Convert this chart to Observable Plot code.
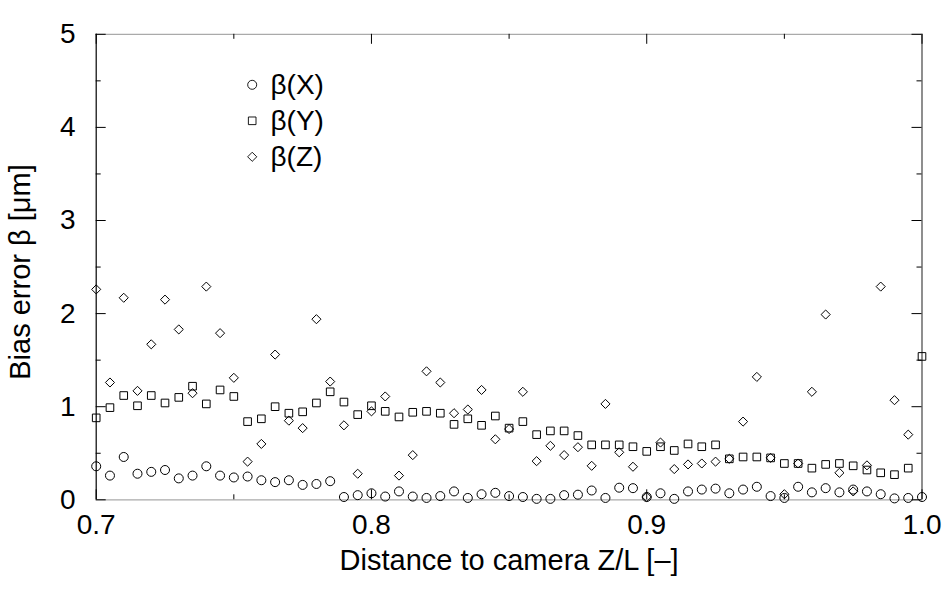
<!DOCTYPE html>
<html><head><meta charset="utf-8">
<script src="https://cdn.jsdelivr.net/npm/d3@7"></script>
<script src="https://cdn.jsdelivr.net/npm/@observablehq/plot@0.6"></script>
<style>
body{margin:0;background:#fff}
#chart svg{font-family:"Liberation Sans",Arial,Helvetica,sans-serif}
</style>
</head><body><div id="chart"></div>
<script>
const distance = [0.700,0.705,0.710,0.715,0.720,0.725,0.730,0.735,0.740,0.745,
  0.750,0.755,0.760,0.765,0.770,0.775,0.780,0.785,0.790,0.795,
  0.800,0.805,0.810,0.815,0.820,0.825,0.830,0.835,0.840,0.845,
  0.850,0.855,0.860,0.865,0.870,0.875,0.880,0.885,0.890,0.895,
  0.900,0.905,0.910,0.915,0.920,0.925,0.930,0.935,0.940,0.945,
  0.950,0.955,0.960,0.965,0.970,0.975,0.980,0.985,0.990,0.995,1.000];
const betaX = [0.36,0.26,0.46,0.28,0.30,0.32,0.23,0.26,0.36,0.26,
  0.24,0.25,0.21,0.19,0.21,0.16,0.17,0.20,0.03,0.05,
  0.07,0.035,0.09,0.035,0.02,0.04,0.09,0.02,0.06,0.075,
  0.04,0.03,0.01,0.01,0.05,0.055,0.10,0.02,0.13,0.125,
  0.03,0.07,0.01,0.09,0.11,0.12,0.07,0.11,0.14,0.04,
  0.02,0.14,0.08,0.125,0.08,0.11,0.09,0.06,0.015,0.02,0.03];
const betaY = [0.88,0.99,1.12,1.01,1.12,1.04,1.10,1.22,1.03,1.18,
  1.11,0.84,0.87,1.00,0.93,0.945,1.04,1.16,1.05,0.915,
  1.01,0.95,0.89,0.94,0.95,0.93,0.81,0.87,0.80,0.90,
  0.77,0.84,0.70,0.74,0.74,0.69,0.59,0.59,0.59,0.57,
  0.52,0.57,0.53,0.60,0.57,0.59,0.44,0.46,0.46,0.45,
  0.39,0.39,0.34,0.38,0.39,0.365,0.32,0.29,0.27,0.34,1.54];
const betaZ = [2.26,1.26,2.17,1.17,1.67,2.15,1.83,1.145,2.29,1.79,
  1.31,0.41,0.60,1.56,0.85,0.77,1.94,1.27,0.80,0.28,
  0.95,1.11,0.26,0.48,1.38,1.26,0.93,0.97,1.18,0.65,
  0.76,1.16,0.415,0.58,0.48,0.565,0.365,1.03,0.51,0.355,
  0.03,0.615,0.33,0.38,0.39,0.41,0.44,0.84,1.32,0.45,
  0.06,0.39,1.16,1.99,0.29,0.09,0.37,2.29,1.07,0.70,null];
const seriesNames = ["β(X)","β(Y)","β(Z)"];
const seriesSymbols = ["circle","square","diamond2"];
const xMajor = [0.7,0.8,0.9,1.0];
const xMinor = [0.75,0.85,0.95];
const yMajor = [0,1,2,3,4,5];
const yMinor = [0.5,1.5,2.5,3.5,4.5];
const xLabel = "Distance to camera Z/L [–]";
const yLabel = "Bias error β [μm]";

const W = 950, H = 614;
const mL = 95.7, mR = 28.5, mT = 33.8, mB = 114.7;
const pW = W - mL - mR, pH = H - mT - mB;
const seriesValues = [betaX, betaY, betaZ];
const symbolR = {circle: 4.5, square: 4.3, diamond2: 4.1};

const rows = s => distance.map((d, i) => ({x: d, y: seriesValues[s][i]}));

const marks = [];
// frame lines
marks.push(Plot.ruleY([0], {stroke: "#aaa", strokeWidth: 1.2}));
marks.push(Plot.ruleY([5], {stroke: "#aaa", strokeWidth: 1.2}));
marks.push(Plot.ruleX([0.7], {stroke: "#000", strokeWidth: 1.2}));
marks.push(Plot.ruleX([1.0], {stroke: "#444", strokeWidth: 1.2}));
// inward ticks
const tick = 10, minor = 5;
marks.push(Plot.tickY(yMajor, {y: d => d, stroke: "#000", insetRight: pW - tick}));
marks.push(Plot.tickY(yMinor, {y: d => d, stroke: "#000", insetRight: pW - minor}));
marks.push(Plot.tickY(yMajor, {y: d => d, stroke: "#000", insetLeft: pW - tick}));
marks.push(Plot.tickY(yMinor, {y: d => d, stroke: "#000", insetLeft: pW - minor}));
marks.push(Plot.tickX(xMajor, {x: d => d, stroke: "#000", insetTop: pH - tick}));
marks.push(Plot.tickX(xMinor, {x: d => d, stroke: "#000", insetTop: pH - minor}));
marks.push(Plot.tickX(xMajor, {x: d => d, stroke: "#000", insetBottom: pH - tick}));
marks.push(Plot.tickX(xMinor, {x: d => d, stroke: "#000", insetBottom: pH - minor}));
// tick labels
marks.push(Plot.axisX(xMajor, {tickSize: 0, tickPadding: 14, tickFormat: d3.format(".1f"), fontSize: 28, label: null}));
marks.push(Plot.axisY(yMajor, {tickSize: 0, tickPadding: 20.7, tickFormat: d => String(d), fontSize: 28, label: null}));
// axis titles
marks.push(Plot.text([xLabel], {frameAnchor: "bottom", lineAnchor: "middle", textAnchor: "middle", dy: 60.7, text: d => d, fontSize: 29}));
marks.push(Plot.text([yLabel], {frameAnchor: "left", lineAnchor: "middle", textAnchor: "middle", rotate: -90, dx: -75.7, dy: 5, text: d => d, fontSize: 29}));
// data
seriesSymbols.forEach((sym, s) => {
  marks.push(Plot.dot(rows(s), {x: "x", y: "y", symbol: sym, r: symbolR[sym], stroke: "#000", fill: "none", strokeWidth: 1}));
});
// legend
seriesNames.forEach((name, i) => {
  marks.push(Plot.dot([name], {frameAnchor: "top-left", dx: 156, dy: 50.5 + 36 * i, symbol: seriesSymbols[i], r: symbolR[seriesSymbols[i]], stroke: "#000", fill: "none", strokeWidth: 0.9}));
  marks.push(Plot.text([name], {frameAnchor: "top-left", lineAnchor: "middle", textAnchor: "start", dx: 174.3, dy: 50.5 + 36 * i, text: d => d, fontSize: 28}));
});

const chart = Plot.plot({
  width: W, height: H,
  marginLeft: mL, marginRight: mR, marginTop: mT, marginBottom: mB,
  x: {domain: [0.7, 1.0]},
  y: {domain: [0, 5]},
  style: {background: "#fff", color: "#000", fontFamily: "'Liberation Sans', Arial, Helvetica, sans-serif"},
  marks
});
document.getElementById("chart").appendChild(chart);
</script>
</body></html>
